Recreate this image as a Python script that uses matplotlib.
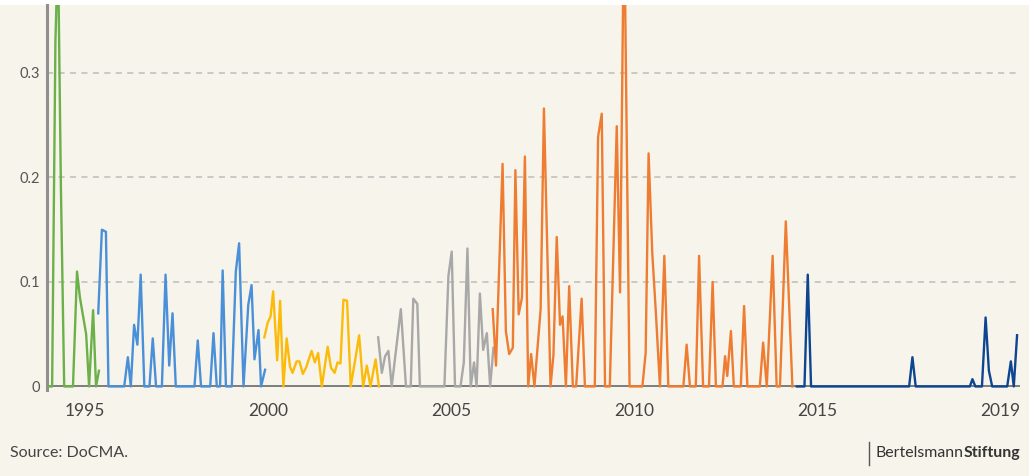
import matplotlib
matplotlib.use("Agg")
import matplotlib.pyplot as plt
from matplotlib.lines import Line2D
from matplotlib.patches import Rectangle

plt.rcParams["font.family"] = ["Lato", "DejaVu Sans"]

# --- Data (decimal years) ----------------------------------------------------

green_years = [1994.02, 1994.10, 1994.19, 1994.26, 1994.34, 1994.43, 1994.67, 1994.78,
               1994.86, 1995.03, 1995.11, 1995.22, 1995.30, 1995.38]
green_vals = [0, 0, 0.33, 0.42, 0.19, 0, 0, 0.110, 0.085, 0.050, 0, 0.073, 0, 0.015]

blue_years = [1995.36, 1995.46, 1995.57, 1995.64, 1996.07, 1996.17, 1996.25, 1996.34,
              1996.43, 1996.52, 1996.62, 1996.76, 1996.85, 1996.94, 1997.10, 1997.20,
              1997.30, 1997.39, 1997.48, 1997.99, 1998.08, 1998.17, 1998.42, 1998.51,
              1998.60, 1998.69, 1998.76, 1998.85, 1999.01, 1999.12, 1999.21, 1999.33,
              1999.46, 1999.55, 1999.63, 1999.74, 1999.81, 1999.92]
blue_vals = [0.070, 0.150, 0.148, 0, 0, 0.028, 0, 0.059, 0.040, 0.107, 0, 0, 0.046, 0,
             0, 0.107, 0.020, 0.070, 0, 0, 0.044, 0, 0, 0.051, 0, 0, 0.111, 0, 0, 0.110,
             0.137, 0, 0.078, 0.097, 0.026, 0.054, 0, 0.016]

yellow_years = [1999.90, 1999.99, 2000.07, 2000.14, 2000.25, 2000.33, 2000.42, 2000.51,
                2000.60, 2000.67, 2000.78, 2000.86, 2000.95, 2001.04, 2001.19, 2001.28,
                2001.37, 2001.47, 2001.63, 2001.72, 2001.82, 2001.90, 2001.98, 2002.06,
                2002.16, 2002.26, 2002.38, 2002.49, 2002.60, 2002.70, 2002.80, 2002.94,
                2003.03]
yellow_vals = [0.047, 0.061, 0.067, 0.091, 0.025, 0.082, 0, 0.046, 0.019, 0.013, 0.024,
               0.024, 0.012, 0.018, 0.034, 0.023, 0.032, 0, 0.038, 0.018, 0.013, 0.023,
               0.022, 0.083, 0.082, 0, 0.025, 0.049, 0, 0.020, 0, 0.026, 0]

gray_years = [2003.01, 2003.11, 2003.20, 2003.29, 2003.38, 2003.63, 2003.77, 2003.90,
              2003.97, 2004.08, 2004.15, 2004.82, 2004.93, 2005.02, 2005.11, 2005.26,
              2005.35, 2005.45, 2005.54, 2005.63, 2005.70, 2005.79, 2005.88, 2005.98,
              2006.07, 2006.16]
gray_vals = [0.047, 0.013, 0.029, 0.034, 0, 0.074, 0, 0, 0.084, 0.079, 0, 0, 0.106,
             0.129, 0, 0, 0.023, 0.132, 0, 0.023, 0, 0.089, 0.035, 0.051, 0, 0.037]

orange_years = [2006.14, 2006.23, 2006.41, 2006.50, 2006.59, 2006.69, 2006.76, 2006.85,
                2006.94, 2007.02, 2007.11, 2007.19, 2007.28, 2007.45, 2007.54, 2007.72,
                2007.80, 2007.89, 2007.98, 2008.05, 2008.14, 2008.23, 2008.33, 2008.42,
                2008.57, 2008.66, 2008.93, 2009.02, 2009.12, 2009.21, 2009.34, 2009.53,
                2009.62, 2009.73, 2009.88, 2010.23, 2010.32, 2010.40, 2010.50, 2010.60,
                2010.71, 2010.83, 2010.94, 2011.35, 2011.44, 2011.53, 2011.69, 2011.78,
                2011.89, 2012.05, 2012.15, 2012.24, 2012.42, 2012.49, 2012.55, 2012.65,
                2012.73, 2012.92, 2013.01, 2013.10, 2013.44, 2013.53, 2013.63, 2013.79,
                2013.90, 2013.99, 2014.15, 2014.33]
orange_vals = [0.074, 0.020, 0.213, 0.053, 0.031, 0.037, 0.207, 0.069, 0.085, 0.220, 0,
               0.031, 0, 0.074, 0.266, 0, 0.030, 0.143, 0.059, 0.067, 0, 0.096, 0, 0,
               0.084, 0, 0, 0.239, 0.261, 0, 0, 0.249, 0.090, 0.46, 0, 0, 0.032, 0.223,
               0.128, 0.070, 0, 0.125, 0, 0, 0.040, 0, 0, 0.125, 0, 0, 0.100, 0, 0,
               0.029, 0.010, 0.053, 0, 0, 0.077, 0, 0, 0.042, 0, 0.125, 0, 0, 0.158, 0]

navy_years = [2014.45, 2014.66, 2014.75, 2014.84, 2017.52, 2017.61, 2017.70, 2019.18,
              2019.25, 2019.33, 2019.51, 2019.61, 2019.70, 2019.79, 2020.20, 2020.30,
              2020.38, 2020.47]
navy_vals = [0, 0, 0.107, 0, 0, 0.028, 0, 0, 0.007, 0, 0, 0.066, 0.015, 0, 0, 0.024, 0,
             0.049]

x_ticks = [1995, 2000, 2005, 2010, 2015, 2020]
x_labels = ["1995", "2000", "2005", "2010", "2015", "2019"]
y_ticks = [0, 0.1, 0.2, 0.3]
y_labels = ["0", "0.1", "0.2", "0.3"]

# --- Plot ---------------------------------------------------------------------

BG = "#f7f4eb"
W, H = 1029, 476

fig = plt.figure(figsize=(W / 100, H / 100), dpi=100, facecolor=BG)
fig.add_artist(Rectangle((0, 1 - 5 / H), 1, 5 / H, transform=fig.transFigure,
                         facecolor="white", edgecolor="none", zorder=0))

ax = fig.add_axes([47 / W, 1 - 389.6 / H, 973 / W, 384.6 / H])
ax.set_facecolor(BG)

series = [
    (green_years, green_vals, "#6cb04a"),
    (blue_years, blue_vals, "#4a90d9"),
    (yellow_years, yellow_vals, "#fcbb0a"),
    (gray_years, gray_vals, "#a8a8a8"),
    (orange_years, orange_vals, "#ee7d32"),
    (navy_years, navy_vals, "#0d4590"),
]
for yrs, vals, col in series:
    ax.plot(yrs, vals, color=col, lw=1.7, zorder=3)

ax.set_xlim(1993.96, 2020.55)
ax.set_ylim(-0.003, 0.365)

ax.grid(axis="y", color="#bcbcbc", lw=1.1, ls=(0, (4, 3.5)))
ax.grid(axis="x", visible=False)
ax.axhline(0, color="#7d7d7d", lw=1.4, zorder=2)

for side in ["top", "right", "bottom"]:
    ax.spines[side].set_visible(False)
ax.spines["left"].set_color("#8f8f8f")
ax.spines["left"].set_linewidth(2.2)

ax.set_xticks(x_ticks, labels=x_labels)
ax.set_yticks(y_ticks, labels=y_labels)
ax.tick_params(axis="x", length=0, pad=10, labelsize=12.5, labelcolor="#444444")
ax.tick_params(axis="y", length=0, pad=5, labelsize=10.5, labelcolor="#555555")

# --- Footer -------------------------------------------------------------------

fig.text(10 / W, 1 - 453 / H, "Source: DoCMA.", fontsize=11.5, color="#444444", va="center")

fig.add_artist(Line2D([869 / W, 869 / W], [1 - 442 / H, 1 - 465 / H],
                      transform=fig.transFigure, color="#555555", lw=1))
t_bold = fig.text(1020 / W, 1 - 453 / H, "Stiftung", fontsize=11.4, fontweight="bold",
                  color="#333333", ha="right", va="center")
fig.canvas.draw()
bb = t_bold.get_window_extent()
fig.text(bb.x0 / W, 1 - 453 / H, "Bertelsmann", fontsize=11.4, color="#333333",
         ha="right", va="center")

fig.savefig("out.png", dpi=100, facecolor=BG)
